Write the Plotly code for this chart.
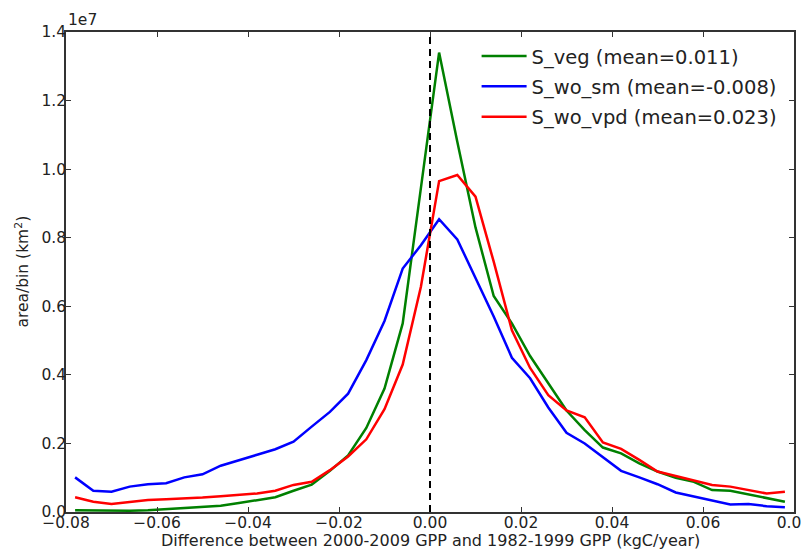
import plotly.graph_objects as go

# bin centres (kgC/year)
bins = [-0.078, -0.074, -0.070, -0.066, -0.062, -0.058, -0.054, -0.050, -0.046, -0.042,
        -0.038, -0.034, -0.030, -0.026, -0.022, -0.018, -0.014, -0.010, -0.006, -0.002,
        0.002, 0.006, 0.010, 0.014, 0.018, 0.022, 0.026, 0.030, 0.034, 0.038,
        0.042, 0.046, 0.050, 0.054, 0.058, 0.062, 0.066, 0.070, 0.074, 0.078]

# area per bin, in units of 1e7 km^2
s_veg = [0.005, 0.004, 0.004, 0.004, 0.005, 0.008, 0.011, 0.013, 0.018, 0.026,
         0.034, 0.043, 0.062, 0.080, 0.120, 0.165, 0.245, 0.360, 0.550, 0.945,
         1.340, 1.080, 0.830, 0.630, 0.550, 0.455, 0.375, 0.296, 0.239, 0.188,
         0.171, 0.142, 0.118, 0.100, 0.088, 0.064, 0.062, 0.052, 0.042, 0.030]

s_wo_sm = [0.101, 0.062, 0.059, 0.074, 0.081, 0.084, 0.101, 0.110, 0.135, 0.152,
           0.167, 0.183, 0.205, 0.249, 0.292, 0.345, 0.443, 0.557, 0.710, 0.778,
           0.854, 0.795, 0.685, 0.570, 0.450, 0.390, 0.305, 0.231, 0.200, 0.161,
           0.120, 0.101, 0.081, 0.057, 0.045, 0.035, 0.022, 0.023, 0.017, 0.014]

s_wo_vpd = [0.043, 0.030, 0.023, 0.030, 0.035, 0.037, 0.039, 0.042, 0.046, 0.050,
            0.054, 0.062, 0.079, 0.088, 0.122, 0.162, 0.212, 0.300, 0.430, 0.657,
            0.965, 0.983, 0.920, 0.730, 0.530, 0.420, 0.341, 0.296, 0.276, 0.203,
            0.184, 0.152, 0.118, 0.105, 0.093, 0.079, 0.074, 0.064, 0.054, 0.059]

series_names = ["S_veg (mean=0.011)", "S_wo_sm (mean=-0.008)", "S_wo_vpd (mean=0.023)"]
series_colors = ["#008000", "#0000ff", "#ff0000"]

x_tickvals = [-0.08, -0.06, -0.04, -0.02, 0.0, 0.02, 0.04, 0.06, 0.08]
x_ticktext = ["\u22120.08", "\u22120.06", "\u22120.04", "\u22120.02", "0.00",
              "0.02", "0.04", "0.06", "0.08"]
y_tickvals = [0.0, 0.2, 0.4, 0.6, 0.8, 1.0, 1.2, 1.4]
y_ticktext = ["0.0", "0.2", "0.4", "0.6", "0.8", "1.0", "1.2", "1.4"]

FONT = "DejaVu Sans"
TXT = "#222222"
AX = "#333333"

fig = go.Figure()
for i, (vals, name, col) in enumerate(zip([s_veg, s_wo_sm, s_wo_vpd], series_names, series_colors)):
    fig.add_trace(go.Scatter(x=bins, y=vals, mode="lines", name=name,
                             legendgroup=f"g{i}",
                             line=dict(color=col, width=2.5)))

fig.add_shape(type="line", xref="x", yref="paper", x0=0, x1=0, y0=0, y1=1,
              line=dict(color="black", width=2, dash="7px,5px"))

axis_common = dict(showline=True, mirror="ticks", linecolor=AX, linewidth=1.5,
                   ticks="inside", ticklen=5, tickwidth=1, tickcolor=AX,
                   showgrid=False, zeroline=False, automargin=False,
                   ticklabeloverflow="allow",
                   tickfont=dict(family=FONT, size=15.5, color=TXT))

# page body has an 8px margin, so the figure is drawn 8px smaller and offset
fig.update_layout(
    width=801, height=541,
    margin=dict(l=58, r=15, t=24, b=37),
    paper_bgcolor="white", plot_bgcolor="white",
    font=dict(family=FONT, color=TXT),
    xaxis=dict(range=[-0.08, 0.0800001], tickvals=x_tickvals, ticktext=x_ticktext,
               ticklabelstandoff=-4, **axis_common),
    yaxis=dict(range=[0, 1.4], tickvals=y_tickvals, ticktext=y_ticktext,
               ticklabelstandoff=-5, **axis_common),
    showlegend=True,
    legend=dict(x=0.564, y=0.99, xanchor="left", yanchor="top",
                font=dict(family=FONT, size=19.5, color=TXT),
                bgcolor="rgba(255,255,255,0)", borderwidth=0,
                itemwidth=45,
                traceorder="grouped", tracegroupgap=2),
    annotations=[
        dict(text="1e7", xref="paper", yref="paper", x=0, y=1, xanchor="left",
             yanchor="bottom", showarrow=False, yshift=1,
             font=dict(family=FONT, size=15.5, color=TXT)),
        dict(text="area/bin (km<sup>2</sup>)", xref="paper", yref="paper",
             x=-0.061, y=0.5, xanchor="center", yanchor="middle", textangle=-90,
             showarrow=False, font=dict(family=FONT, size=15.5, color=TXT)),
        dict(text="Difference between 2000-2009 GPP and 1982-1999 GPP (kgC/year)",
             xref="paper", yref="paper", x=0.5, y=-0.0585, xanchor="center",
             yanchor="middle", showarrow=False,
             font=dict(family=FONT, size=16, color=TXT)),
    ],
)

fig.write_html("out.html")
